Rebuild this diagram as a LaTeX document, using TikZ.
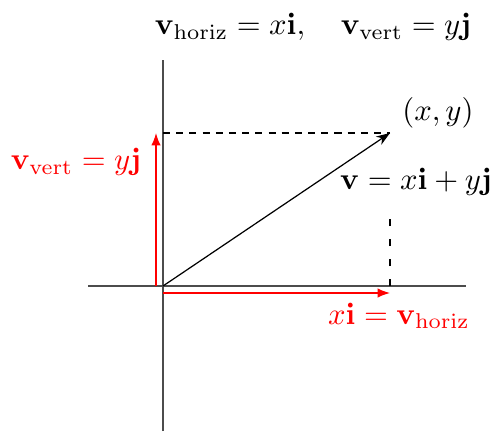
\documentclass[tikz,border=0pt]{standalone}
\usetikzlibrary{arrows.meta}
\begin{document}
\begin{tikzpicture}[x=0.326pt,y=-0.326pt,
  axis/.style={draw=black!70,line width=0.45pt},
  vec/.style={draw=black,line width=0.4pt,-{Stealth[length=4.5pt,width=3.2pt]}},
  comp/.style={draw=red,line width=0.4pt,-{Latex[length=4pt,width=3pt]}},
  hdash/.style={draw=black,line width=0.4pt,dash pattern=on 2.3pt off 2pt},
  vdash/.style={draw=black,line width=0.4pt,dash pattern=on 2.3pt off 4.2pt},
  lbl/.style={inner sep=0pt,text=black},
  rlbl/.style={inner sep=0pt,text=red}]
\useasboundingbox (0,0) rectangle (498,431);
% key points
\coordinate (O) at (163,286);
\coordinate (P) at (390,133);
\coordinate (xl) at (88,286);
\coordinate (xr) at (466,286);
\coordinate (yt) at (163,60);
\coordinate (yb) at (163,431);
\coordinate (Py) at (163,133);
\coordinate (Pd) at (390,214);
\coordinate (Px) at (390,286);
\coordinate (rv0) at (156,286);
\coordinate (rv1) at (156,133);
\coordinate (rh0) at (163,293);
\coordinate (rh1) at (390,293);
% axes
\draw[axis] (xl) -- (xr);
\draw[axis] (yb) -- (yt);
% dashed guides
\draw[hdash] (Py) -- (P);
\draw[vdash] (Px) -- (Pd);
% vector
\draw[vec] (O) -- (P);
% components
\draw[comp] (rv0) -- (rv1);
\draw[comp] (rh0) -- (rh1);
% labels
\node[lbl] (top) at (313,27) {$\mathbf{v}_{\mathrm{horiz}} = x\mathbf{i}, \quad \mathbf{v}_{\mathrm{vert}} = y\mathbf{j}$};
\node[lbl] (pt) at (438,113) {$(x,y)$};
\node[lbl] (vl) at (416,182) {$\mathbf{v} = x\mathbf{i} + y\mathbf{j}$};
\node[rlbl] (hl) at (399,316) {$x\mathbf{i} = \mathbf{v}_{\mathrm{horiz}}$};
\node[rlbl] (vvl) at (76,162) {$\mathbf{v}_{\mathrm{vert}} = y\mathbf{j}$};
\end{tikzpicture}
\end{document}
